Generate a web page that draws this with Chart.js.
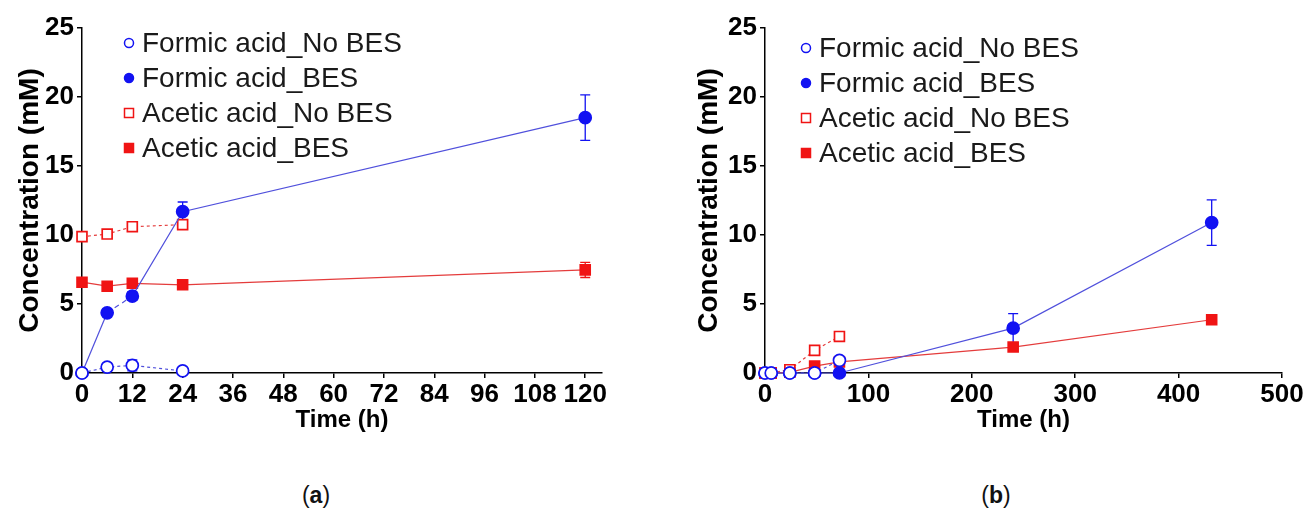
<!DOCTYPE html>
<html>
<head>
<meta charset="utf-8">
<script src="https://cdn.jsdelivr.net/npm/chart.js@4/dist/chart.umd.min.js"></script>
<style>
  body { margin: 0; background: #fff; width: 1306px; height: 514px; position: relative; overflow: hidden; font-family: "Liberation Sans", Arial, sans-serif; }
  .box { position: absolute; top: 0; height: 460px; }
  #boxA { left: 0; width: 640px; }
  #boxB { left: 650px; width: 656px; }
  .cap { position: absolute; top: 482px; font-size: 23px; color: #111; transform: translateX(-50%); }
</style>
</head>
<body>
<div class="box" id="boxA"><canvas id="chartA"></canvas></div>
<div class="box" id="boxB"><canvas id="chartB"></canvas></div>
<div class="cap" style="left:316px">(<b>a</b>)</div>
<div class="cap" style="left:996px">(<b>b</b>)</div>
<script>
// panel (a)
const timeNoBesA = [0, 6, 12, 24];
const timeBesA = [0, 6, 12, 24, 120];
const formicNoBesA = [0, 0.43, 0.55, 0.15];
const formicNoBesErrA = [0, 0.1, 0.4, 0.1];
const formicBesA = [0, 4.36, 5.57, 11.69, 18.5];
const formicBesErrA = [0, 0.15, 0.3, 0.7, 1.65];
const aceticNoBesA = [9.88, 10.07, 10.6, 10.75];
const aceticNoBesErrA = [0.1, 0.1, 0.15, 0.15];
const aceticBesA = [6.58, 6.29, 6.5, 6.39, 7.47];
const aceticBesErrA = [0.1, 0.1, 0.1, 0.1, 0.55];
const ticksA = [0, 12, 24, 36, 48, 60, 72, 84, 96, 108, 120];

// panel (b)
const timeNoBesB = [0, 6, 24, 48, 72];
const timeBesB = [0, 6, 24, 48, 72, 240, 432];
const formicNoBesB = [0, 0, 0, 0, 0.92];
const formicNoBesErrB = [0, 0, 0, 0, 0.1];
const formicBesB = [0, 0, 0, 0, 0, 3.25, 10.9];
const formicBesErrB = [0, 0, 0, 0, 0, 1.05, 1.65];
const aceticNoBesB = [0, 0, 0.24, 1.64, 2.65];
const aceticNoBesErrB = [0, 0, 0.05, 0.1, 0.1];
const aceticBesB = [0, 0, 0.05, 0.5, 0.8, 1.88, 3.86];
const aceticBesErrB = [0, 0, 0, 0.1, 0.1, 0.15, 0.2];
const ticksB = [0, 100, 200, 300, 400, 500];

const labels = ['Formic acid_No BES', 'Formic acid_BES', 'Acetic acid_No BES', 'Acetic acid_BES'];

const blue = '#1212f2', blueLine = '#5050dc';
const red = '#f01414', redLine = '#e43c3c';
const FONT = '"Liberation Sans", Arial, sans-serif';

const pts = (xs, ys) => ys.map((v, i) => ({ x: xs[i], y: v }));

// error bars drawn behind the markers
const errorBars = {
  id: 'errorBars',
  beforeDatasetsDraw(chart) {
    const ctx = chart.ctx, ys = chart.scales.y;
    chart.data.datasets.forEach((ds, di) => {
      if (!ds.errors) return;
      const meta = chart.getDatasetMeta(di);
      ctx.save();
      ctx.strokeStyle = ds.pointBorderColor;
      ctx.lineWidth = 1.3;
      meta.data.forEach((p, i) => {
        const e = ds.errors[i];
        if (!e) return;
        const v = ds.data[i].y;
        const t = ys.getPixelForValue(v + e), b = ys.getPixelForValue(v - e);
        ctx.beginPath();
        ctx.moveTo(p.x, t); ctx.lineTo(p.x, b);
        ctx.moveTo(p.x - 5, t); ctx.lineTo(p.x + 5, t);
        ctx.moveTo(p.x - 5, b); ctx.lineTo(p.x + 5, b);
        ctx.stroke();
      });
      ctx.restore();
    });
  }
};

// legend placed inside the plot, top left
const cornerLegend = {
  id: 'cornerLegend',
  afterDraw(chart, args, opts) {
    const ctx = chart.ctx, a = chart.chartArea;
    ctx.save();
    ctx.font = '28px ' + FONT;
    ctx.textBaseline = 'middle';
    chart.data.datasets.forEach((ds, i) => {
      const x = a.left + opts.dx, y = a.top + opts.dy + i * opts.gap;
      ctx.lineWidth = 1.5;
      ctx.strokeStyle = ds.pointBorderColor;
      ctx.fillStyle = ds.pointBackgroundColor;
      ctx.beginPath();
      if (ds.pointStyle === 'circle') ctx.arc(x, y, 4.5, 0, Math.PI * 2);
      else ctx.rect(x - 4.5, y - 4.5, 9, 9);
      ctx.fill(); ctx.stroke();
      ctx.fillStyle = '#1a1a1a';
      ctx.fillText(ds.label, x + 13, y + 1);
    });
    ctx.restore();
  }
};

function makeSets(tNo, tBes, fNo, fNoE, fBes, fBesE, aNo, aNoE, aBes, aBesE, dashSeg) {
  const common = { showLine: true, clip: false, borderWidth: 1.2, pointBorderWidth: 1.7 };
  return [
    { ...common, label: labels[0], data: pts(tNo, fNo), errors: fNoE, borderColor: blueLine, borderDash: [3, 3],
      pointStyle: 'circle', pointRadius: 6, pointBorderColor: blue, pointBackgroundColor: '#fff' },
    { ...common, label: labels[1], data: pts(tBes, fBes), errors: fBesE, borderColor: blueLine,
      segment: { borderDash: c => (dashSeg && c.p0DataIndex === 1) ? [5, 4] : undefined },
      pointStyle: 'circle', pointRadius: 6, pointBorderColor: blue, pointBackgroundColor: blue },
    { ...common, label: labels[2], data: pts(tNo, aNo), errors: aNoE, borderColor: redLine, borderDash: [3, 3],
      pointStyle: 'rect', pointRadius: 7, pointBorderColor: red, pointBackgroundColor: '#fff' },
    { ...common, label: labels[3], data: pts(tBes, aBes), errors: aBesE, borderColor: redLine,
      pointStyle: 'rect', pointRadius: 7, pointBorderColor: red, pointBackgroundColor: red }
  ];
}

function makeOptions(cfg) {
  const tickFont = { family: FONT, size: 26, weight: 'bold' };
  const axisGrid = { display: true, drawOnChartArea: false, drawTicks: true, tickLength: 5, color: '#000', lineWidth: 1.5 };
  return {
    responsive: true,
    maintainAspectRatio: false,
    animation: false,
    layout: { padding: cfg.padding },
    plugins: {
      legend: { display: false },
      tooltip: { enabled: false },
      cornerLegend: cfg.legend
    },
    scales: {
      x: {
        type: 'linear', min: 0, max: cfg.xMax,
        ticks: { autoSkip: false, maxRotation: 0, color: '#000', font: tickFont, padding: 1 },
        afterBuildTicks: s => { s.ticks = cfg.xTicks.map(v => ({ value: v })); },
        afterFit: s => { s.height = 62; },
        grid: axisGrid,
        border: { color: '#000', width: 1.5 },
        title: { display: true, text: 'Time (h)', color: '#000', font: { family: FONT, size: 24, weight: 'bold' }, padding: 0 }
      },
      y: {
        min: 0, max: 25,
        ticks: { stepSize: 5, color: '#000', font: tickFont, padding: 3 },
        afterFit: s => { s.width = cfg.yWidth; },
        grid: axisGrid,
        border: { color: '#000', width: 1.5 },
        title: { display: true, text: 'Concentration (mM)', color: '#000', font: { family: FONT, size: 28, weight: 'bold' }, padding: 0 }
      }
    }
  };
}

new Chart(document.getElementById('chartA'), {
  type: 'scatter',
  data: { datasets: makeSets(timeNoBesA, timeBesA, formicNoBesA, formicNoBesErrA, formicBesA, formicBesErrA,
    aceticNoBesA, aceticNoBesErrA, aceticBesA, aceticBesErrA, true) },
  options: makeOptions({ padding: { left: 13, right: 38, top: 28, bottom: 25 }, yWidth: 69,
    xMax: 124, xTicks: ticksA, legend: { dx: 47, dy: 15, gap: 35 } }),
  plugins: [errorBars, cornerLegend]
});

new Chart(document.getElementById('chartB'), {
  type: 'scatter',
  data: { datasets: makeSets(timeNoBesB, timeBesB, formicNoBesB, formicNoBesErrB, formicBesB, formicBesErrB,
    aceticNoBesB, aceticNoBesErrB, aceticBesB, aceticBesErrB, false) },
  options: makeOptions({ padding: { left: 42, right: 24, top: 28, bottom: 25 }, yWidth: 73,
    xMax: 500, xTicks: ticksB, legend: { dx: 41, dy: 20, gap: 35 } }),
  plugins: [errorBars, cornerLegend]
});
</script>
</body>
</html>
